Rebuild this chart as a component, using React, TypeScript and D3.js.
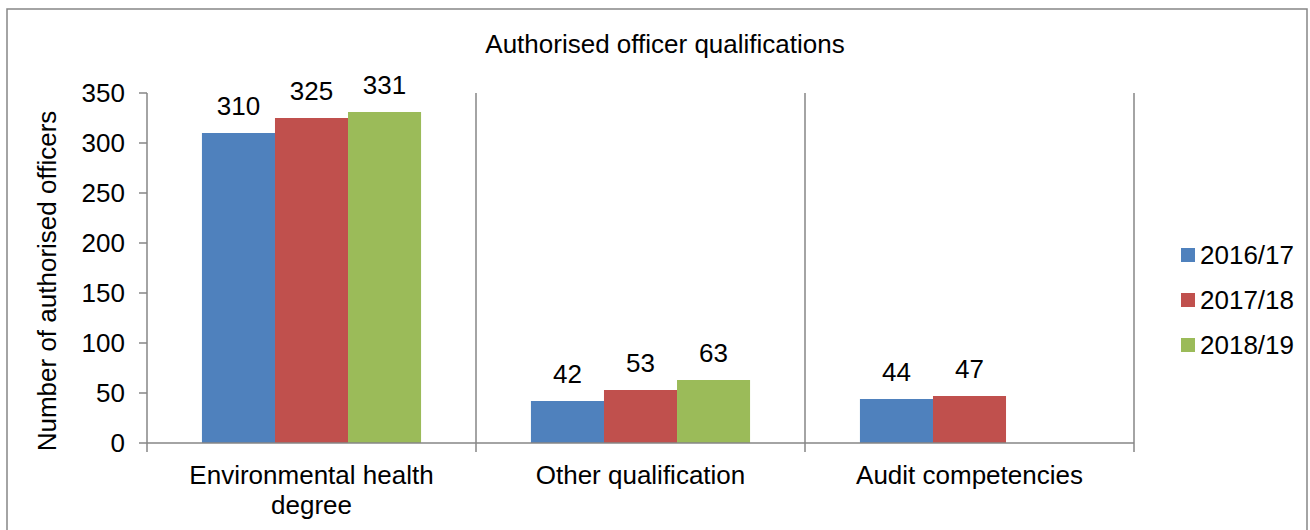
import React from "react";
import * as d3 from "d3";

const title = "Authorised officer qualifications";
const yAxisLabel = "Number of authorised officers";
const categories = ["Environmental health degree", "Other qualification", "Audit competencies"];
const categoryLines = [["Environmental health", "degree"], ["Other qualification"], ["Audit competencies"]];
const seriesNames = ["2016/17", "2017/18", "2018/19"];
const seriesColors = ["#4F81BD", "#C0504D", "#9BBB59"];
const values2016 = [310, 42, 44];
const values2017 = [325, 53, 47];
const values2018: (number | null)[] = [331, 63, null];
const yTicks = [0, 50, 100, 150, 200, 250, 300, 350];

const seriesValues = [values2016, values2017, values2018];

const W = 1310;
const H = 530;
const plotLeft = 147;
const plotRight = 1134;
const plotTop = 93;
const plotBottom = 443;
const FONT = "'Liberation Sans', Arial, sans-serif";
const GRID = "#868686";

export default function App() {
  const x0 = d3.scaleBand<string>().domain(categories).range([plotLeft, plotRight]).padding(0);
  const bw = x0.bandwidth();
  const groupPad = bw * 0.167;
  const x1 = d3.scaleBand<string>().domain(seriesNames).range([groupPad, bw - groupPad]).padding(0);
  const y = d3.scaleLinear().domain([0, 350]).range([plotBottom, plotTop]);

  return (
    <svg width={W} height={H} style={{ position: "absolute", left: 0, top: 0, background: "#fff" }} fontFamily={FONT}>
      <rect x={7} y={9} width={1300} height={530} fill="#fff" stroke={GRID} strokeWidth={1.5} />
      <text x={665} y={53} textAnchor="middle" fontSize={26} fill="#000">{title}</text>

      {/* vertical gridlines between categories */}
      {categories.map((c) => (
        <line key={"g" + c} x1={x0(c)! + bw} x2={x0(c)! + bw} y1={plotTop} y2={plotBottom + 9} stroke={GRID} strokeWidth={1.5} />
      ))}

      {/* bars */}
      {seriesValues.map((vals, si) =>
        vals.map((v, ci) =>
          v == null ? null : (
            <rect
              key={`b${si}-${ci}`}
              x={x0(categories[ci])! + x1(seriesNames[si])!}
              y={y(v)}
              width={x1.bandwidth()}
              height={plotBottom - y(v)}
              fill={seriesColors[si]}
            />
          )
        )
      )}

      {/* data labels */}
      {seriesValues.map((vals, si) =>
        vals.map((v, ci) =>
          v == null ? null : (
            <text
              key={`l${si}-${ci}`}
              x={x0(categories[ci])! + x1(seriesNames[si])! + x1.bandwidth() / 2}
              y={y(v) - 18}
              textAnchor="middle"
              fontSize={26}
              fill="#000"
            >
              {v}
            </text>
          )
        )
      )}

      {/* y axis */}
      <line x1={plotLeft} x2={plotLeft} y1={plotTop} y2={plotBottom} stroke={GRID} strokeWidth={1.5} />
      {yTicks.map((t) => (
        <g key={"t" + t}>
          <line x1={plotLeft - 8} x2={plotLeft} y1={y(t)} y2={y(t)} stroke={GRID} strokeWidth={1.5} />
          <text x={plotLeft - 22} y={y(t) + 9} textAnchor="end" fontSize={26} fill="#000">{t}</text>
        </g>
      ))}

      {/* x axis */}
      <line x1={plotLeft} x2={plotRight} y1={plotBottom} y2={plotBottom} stroke={GRID} strokeWidth={1.5} />
      <line x1={plotLeft} x2={plotLeft} y1={plotBottom} y2={plotBottom + 9} stroke={GRID} strokeWidth={1.5} />
      {categories.map((c, ci) => (
        <text key={"c" + c} x={x0(c)! + bw / 2} y={484} textAnchor="middle" fontSize={26} fill="#000">
          {categoryLines[ci].map((ln, li) => (
            <tspan key={li} x={x0(c)! + bw / 2} dy={li === 0 ? 0 : 30}>{ln}</tspan>
          ))}
        </text>
      ))}

      {/* y axis label */}
      <text transform={`translate(56,${281}) rotate(-90)`} textAnchor="middle" fontSize={26} fill="#000">{yAxisLabel}</text>

      {/* legend */}
      {seriesNames.map((s, i) => (
        <g key={"lg" + s} transform={`translate(1181,${248 + i * 45})`}>
          <rect x={0} y={0} width={14} height={14} fill={seriesColors[i]} />
          <text x={19} y={16} fontSize={26} fill="#000">{s}</text>
        </g>
      ))}
    </svg>
  );
}
